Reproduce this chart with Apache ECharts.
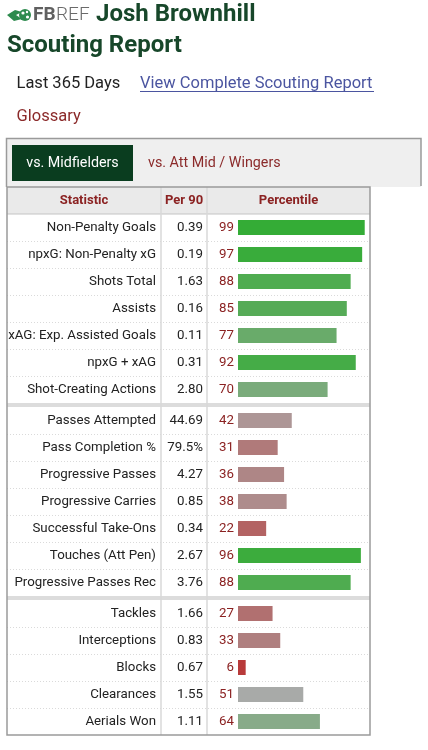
<!DOCTYPE html>
<html>
<head>
<meta charset="utf-8">
<script src="https://cdn.jsdelivr.net/npm/echarts@6/dist/echarts.min.js"></script>
<style>
html,body{margin:0;padding:0;background:#fff;}
#chart{width:428px;height:750px;}
</style>
</head>
<body>
<div id="chart"></div>
<script>
// ---- data ----
const statNames = [
  'Non-Penalty Goals','npxG: Non-Penalty xG','Shots Total','Assists','xAG: Exp. Assisted Goals','npxG + xAG','Shot-Creating Actions',
  'Passes Attempted','Pass Completion %','Progressive Passes','Progressive Carries','Successful Take-Ons','Touches (Att Pen)','Progressive Passes Rec',
  'Tackles','Interceptions','Blocks','Clearances','Aerials Won'
];
const per90 = ['0.39','0.19','1.63','0.16','0.11','0.31','2.80',
  '44.69','79.5%','4.27','0.85','0.34','2.67','3.76',
  '1.66','0.83','0.67','1.55','1.11'];
const percentiles = [99,97,88,85,77,92,70,
  42,31,36,38,22,96,88,
  27,33,6,51,64];
const groupSizes = [7,7,5];
const headerLabels = ['Statistic','Per 90','Percentile'];
const tabLabels = ['vs. Midfielders','vs. Att Mid / Wingers'];

// ---- layout ----
const FONT = 'Roboto, "Noto Sans", sans-serif';
const BODY = 13.3;
const TL = 7, TR = 370, HTOP = 187, HH = 27, ROWH = 27, SEPH = 4;
const COL1 = 161, COL2 = 207, BAR_L = 238, BAR_W = 128;
const DARKRED = '#8b2222';

function pctColor(p){
  const gray=[170,170,170], red=[186,43,43], green=[50,172,52];
  let t, e;
  if(p<50){t=(50-p)/50; e=red;} else {t=(p-50)/50; e=green;}
  const c = gray.map((g,i)=>Math.round(g+(e[i]-g)*t));
  return 'rgb('+c.join(',')+')';
}

const chart = echarts.init(document.getElementById('chart'), null, {renderer:'canvas'});

const grids=[], xAxes=[], yAxes=[], series=[], graphics=[];
let curTop = HTOP + HH, start = 0;
groupSizes.forEach((n,g)=>{
  const names = statNames.slice(start,start+n);
  const vals = per90.slice(start,start+n);
  const pcts = percentiles.slice(start,start+n);
  grids.push({left:BAR_L, width:BAR_W, top:curTop, height:n*ROWH, containLabel:false});
  xAxes.push({type:'value', gridIndex:g, min:0, max:100, show:false});
  const baseY = {type:'category', gridIndex:g, inverse:true, position:'left', data:names,
    axisLine:{show:false}, axisTick:{show:false}, splitLine:{show:false}};
  yAxes.push(Object.assign({}, baseY, {offset:0,
    axisLabel:{interval:0, margin:4, fontFamily:FONT, fontSize:BODY, color:DARKRED,
      formatter:(v,i)=>String(pcts[i])}}));
  yAxes.push(Object.assign({}, baseY, {offset:BAR_L-203,
    axisLabel:{interval:0, margin:0, fontFamily:FONT, fontSize:BODY, color:'#222',
      formatter:(v,i)=>vals[i]}}));
  yAxes.push(Object.assign({}, baseY, {offset:BAR_L-156,
    axisLabel:{interval:0, margin:0, fontFamily:FONT, fontSize:BODY, color:'#222'}}));
  series.push({type:'bar', xAxisIndex:g, yAxisIndex:3*g, data:pcts, barWidth:15,
    silent:true, animation:false,
    itemStyle:{color:(p)=>pctColor(p.value)}});
  for(let k=1;k<n;k++){
    const y = curTop + k*ROWH + 0.5;
    graphics.push({type:'line', shape:{x1:TL,y1:y,x2:TR,y2:y},
      style:{stroke:'#dadada', lineWidth:1, lineDash:[1,2]}, z:1});
  }
  curTop += n*ROWH;
  if(g < groupSizes.length-1){
    graphics.push({type:'rect', shape:{x:TL,y:curTop,width:TR-TL,height:SEPH}, style:{fill:'#dcdcdc'}, z:1});
    curTop += SEPH;
  }
  start += n;
});
const TBOT = curTop;

graphics.push(
  {type:'polygon', shape:{points:[[7,15],[15,10],[22,12],[16,15],[22,19],[14,21]]}, style:{fill:'#2e8b4e'}, z:5},
  {type:'circle', shape:{cx:25,cy:15,r:6}, style:{fill:'#2e8b4e'}, z:5},
  {type:'circle', shape:{cx:23,cy:13,r:1.6}, style:{fill:'#fff'}, z:6},
  {type:'circle', shape:{cx:27.5,cy:17,r:1.6}, style:{fill:'#fff'}, z:6},
  {type:'circle', shape:{cx:27,cy:12,r:1.2}, style:{fill:'#fff'}, z:6},
  {type:'text', style:{text:'FB', x:33, y:15.5, font:'bold 19px '+FONT, fill:'#606060', textVerticalAlign:'middle'}, z:5},
  {type:'text', style:{text:'REF', x:56, y:15.5, font:'300 19px '+FONT, fill:'#6a6a6a', textVerticalAlign:'middle'}, z:5},
  {type:'text', style:{text:'Josh Brownhill', x:96, y:15, font:'bold 24px '+FONT, fill:'#17472a', textVerticalAlign:'middle'}, z:5},
  {type:'text', style:{text:'Scouting Report', x:7, y:46, font:'bold 24px '+FONT, fill:'#17472a', textVerticalAlign:'middle'}, z:5},
  {type:'text', style:{text:'Last 365 Days', x:16.5, y:84, font:'16.5px '+FONT, fill:'#222', textVerticalAlign:'middle'}, z:5},
  {type:'text', style:{text:'View Complete Scouting Report', x:140, y:84, font:'16.5px '+FONT, fill:'#4b55a0', textVerticalAlign:'middle'}, z:5},
  {type:'line', shape:{x1:140,y1:91.5,x2:374,y2:91.5}, style:{stroke:'#4b55a0', lineWidth:1}, z:5},
  {type:'text', style:{text:'Glossary', x:16.5, y:117, font:'16.5px '+FONT, fill:'#8b2a2a', textVerticalAlign:'middle'}, z:5},
  {type:'rect', shape:{x:6,y:138.5,width:415,height:48.5}, style:{fill:'#efefef'}, z:1},
  {type:'polyline', shape:{points:[[6.5,187],[6.5,138.5],[421,138.5],[421,186]]}, style:{stroke:'#9a9a9a', lineWidth:1.5, fill:null}, z:2},
  {type:'rect', shape:{x:12,y:145,width:121,height:36}, style:{fill:'#0a3d1f'}, z:3},
  {type:'text', style:{text:tabLabels[0], x:72.5, y:163, font:'14.3px '+FONT, fill:'#fff', textAlign:'center', textVerticalAlign:'middle'}, z:4},
  {type:'text', style:{text:tabLabels[1], x:148, y:163, font:'14.3px '+FONT, fill:'#8b2a2a', textVerticalAlign:'middle'}, z:4},
  {type:'rect', shape:{x:TL,y:HTOP,width:TR-TL,height:HH}, style:{fill:'#eaeaea'}, z:1},
  {type:'line', shape:{x1:TL,y1:HTOP+HH,x2:TR,y2:HTOP+HH}, style:{stroke:'#c4c4c4', lineWidth:1}, z:2},
  {type:'text', style:{text:headerLabels[0], x:(TL+COL1)/2, y:HTOP+HH/2, font:'bold 13px '+FONT, fill:DARKRED, textAlign:'center', textVerticalAlign:'middle'}, z:4},
  {type:'text', style:{text:headerLabels[1], x:(COL1+COL2)/2, y:HTOP+HH/2, font:'bold 13px '+FONT, fill:DARKRED, textAlign:'center', textVerticalAlign:'middle'}, z:4},
  {type:'text', style:{text:headerLabels[2], x:(COL2+TR)/2, y:HTOP+HH/2, font:'bold 13px '+FONT, fill:DARKRED, textAlign:'center', textVerticalAlign:'middle'}, z:4},
  {type:'line', shape:{x1:COL1,y1:HTOP,x2:COL1,y2:TBOT}, style:{stroke:'#d8d8d8', lineWidth:1.5}, z:2},
  {type:'line', shape:{x1:COL2,y1:HTOP,x2:COL2,y2:TBOT}, style:{stroke:'#d8d8d8', lineWidth:1.5}, z:2},
  {type:'rect', shape:{x:TL,y:HTOP,width:TR-TL,height:TBOT-HTOP}, style:{fill:null, stroke:'#9a9a9a', lineWidth:1.5}, z:3}
);

chart.setOption({
  animation:false,
  backgroundColor:'#fff',
  grid:grids, xAxis:xAxes, yAxis:yAxes, series:series,
  graphic:{elements:graphics}
});
</script>
</body>
</html>
